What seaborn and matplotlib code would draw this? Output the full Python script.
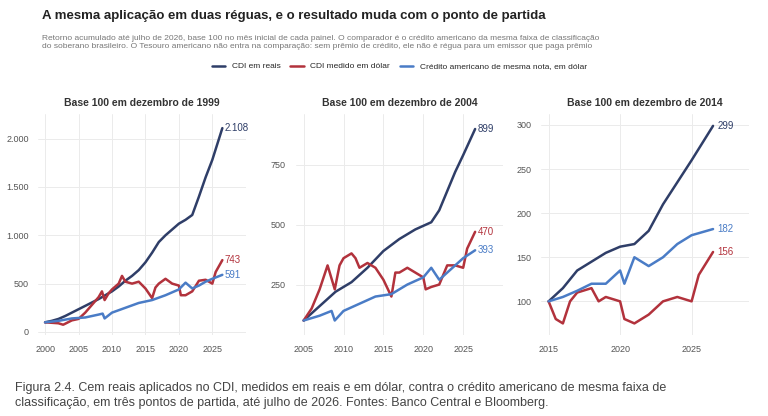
import matplotlib
matplotlib.use("Agg")
import matplotlib.pyplot as plt
import seaborn as sns
import pandas as pd
from matplotlib.ticker import FuncFormatter

# Panel 1: base Dec 1999
p1_real_x = [2000,2001,2002,2003,2004,2005,2006,2007,2008,2009,2010,2011,2012,2013,2014,2015,2016,2017,2018,2019,2020,2021,2022,2023,2024,2025,2026.5]
p1_real_y = [100,115,135,165,200,235,270,305,340,380,420,470,530,580,640,720,820,930,1000,1060,1120,1160,1210,1400,1600,1780,2108]
p1_usd_x = [2000,2001,2002,2002.7,2003,2004,2005,2006,2007,2008,2008.5,2008.9,2009.5,2010,2011,2011.5,2012,2013,2014,2015,2016,2016.5,2017,2018,2019,2020,2020.3,2021,2022,2023,2024,2025,2025.5,2026.5]
p1_usd_y = [100,95,90,75,85,120,135,200,280,360,420,330,400,440,500,580,520,500,520,450,350,460,500,550,500,480,380,380,420,530,540,500,620,743]
p1_cr_x = [2000,2002,2004,2006,2008,2008.6,2008.9,2010,2012,2014,2016,2018,2020,2021,2022,2023,2024,2025,2026.5]
p1_cr_y = [100,115,140,150,180,190,140,200,250,300,330,380,440,510,450,480,520,550,591]

# Panel 2: base Dec 2004
p2_real_x = [2005,2007,2009,2011,2013,2015,2017,2019,2021,2022,2023,2024,2025,2026.5]
p2_real_y = [100,160,220,260,320,390,440,480,510,560,640,720,790,899]
p2_usd_x = [2005,2006,2007,2008,2008.9,2009.5,2010,2011,2011.5,2012,2013,2014,2015,2016,2016.5,2017,2018,2019,2020,2020.3,2021,2022,2023,2024,2025,2025.5,2026.5]
p2_usd_y = [100,150,230,330,230,330,360,380,360,320,340,320,270,200,300,300,320,300,280,230,240,250,330,330,320,400,470]
p2_cr_x = [2005,2007,2008.5,2008.9,2010,2012,2014,2016,2018,2020,2021,2022,2023,2024,2025,2026.5]
p2_cr_y = [100,120,140,100,140,170,200,210,250,280,320,270,300,330,360,393]

# Panel 3: base Dec 2014
p3_real_x = [2015,2016,2017,2018,2019,2020,2021,2022,2023,2024,2025,2026.5]
p3_real_y = [100,115,135,145,155,162,165,180,210,235,260,299]
p3_usd_x = [2015,2015.5,2016,2016.5,2017,2018,2018.5,2019,2020,2020.3,2021,2022,2023,2024,2025,2025.5,2026.5]
p3_usd_y = [100,80,75,100,110,115,100,105,100,80,75,85,100,105,100,130,156]
p3_cr_x = [2015,2016,2017,2018,2019,2020,2020.3,2021,2022,2023,2024,2025,2026.5]
p3_cr_y = [100,105,112,120,120,135,120,150,140,150,165,175,182]

series_names = ["CDI em reais", "CDI medido em dólar", "Crédito americano de mesma nota, em dólar"]
panel_titles = ["Base 100 em dezembro de 1999", "Base 100 em dezembro de 2004", "Base 100 em dezembro de 2014"]
end_labels = [["2.108","743","591"],["899","470","393"],["299","156","182"]]
colors = {"CDI em reais":"#2f3e68", "CDI medido em dólar":"#b2323c", "Crédito americano de mesma nota, em dólar":"#4a7cc6"}

panels = [
    [(p1_real_x,p1_real_y),(p1_usd_x,p1_usd_y),(p1_cr_x,p1_cr_y)],
    [(p2_real_x,p2_real_y),(p2_usd_x,p2_usd_y),(p2_cr_x,p2_cr_y)],
    [(p3_real_x,p3_real_y),(p3_usd_x,p3_usd_y),(p3_cr_x,p3_cr_y)],
]
yticks = [[0,500,1000,1500,2000],[250,500,750],[100,150,200,250,300]]
ylims = [(-30,2250),(40,960),(62,312)]
xlims = [(1999,2030),(2004,2030),(2014.5,2029)]
xticks = [[2000,2005,2010,2015,2020,2025],[2005,2010,2015,2020,2025],[2015,2020,2025]]

sns.set_theme(style="whitegrid")
plt.rcParams['font.family'] = ['Liberation Sans', 'DejaVu Sans']

fig = plt.figure(figsize=(7.68,4.16), dpi=100)
fmt = FuncFormatter(lambda v, p: f"{int(v):,}".replace(",", "."))
lefts = [0.05, 0.385, 0.705]
for i in range(3):
    ax = fig.add_axes([lefts[i], 0.195, 0.27, 0.53])
    rows = []
    for name,(xs,ys) in zip(series_names, panels[i]):
        rows += [{"x":x,"y":y,"s":name} for x,y in zip(xs,ys)]
    df = pd.DataFrame(rows)
    sns.lineplot(data=df, x="x", y="y", hue="s", palette=colors, ax=ax, legend=False, linewidth=1.8, estimator=None, sort=False)
    for (name,(xs,ys)),lab in zip(zip(series_names,panels[i]), end_labels[i]):
        ax.text(xs[-1]+0.3, ys[-1], lab, color=colors[name], fontsize=7, va="center")
    ax.set_xlim(*xlims[i]); ax.set_ylim(*ylims[i])
    ax.set_xticks(xticks[i]); ax.set_yticks(yticks[i])
    ax.yaxis.set_major_formatter(fmt)
    ax.set_xlabel(""); ax.set_ylabel("")
    ax.tick_params(labelsize=6.5, colors="#555555", pad=1)
    ax.set_title(panel_titles[i], fontsize=7.5, fontweight="bold", color="#333333", pad=6)
    ax.grid(color="#ebebeb", linewidth=0.7)
    for s in ax.spines.values(): s.set_visible(False)

fig.text(0.055, 0.955, "A mesma aplicação em duas réguas, e o resultado muda com o ponto de partida", fontsize=9.5, fontweight="bold", color="#222222")
fig.text(0.055, 0.885, "Retorno acumulado até julho de 2026, base 100 no mês inicial de cada painel. O comparador é o crédito americano da mesma faixa de classificação\ndo soberano brasileiro. O Tesouro americano não entra na comparação: sem prêmio de crédito, ele não é régua para um emissor que paga prêmio",
         fontsize=6, color="#777777", linespacing=1.2)
from matplotlib.lines import Line2D
handles = [Line2D([],[],color=colors[n],lw=1.8) for n in series_names]
fig.legend(handles, series_names, loc="center", bbox_to_anchor=(0.52,0.84), ncol=3, frameon=False, fontsize=6, handlelength=1.6, columnspacing=1.2)
fig.text(0.02, 0.025, "Figura 2.4. Cem reais aplicados no CDI, medidos em reais e em dólar, contra o crédito americano de mesma faixa de\nclassificação, em três pontos de partida, até julho de 2026. Fontes: Banco Central e Bloomberg.",
         fontsize=9, color="#444444", linespacing=1.3)
fig.savefig("out.png", dpi=100)
